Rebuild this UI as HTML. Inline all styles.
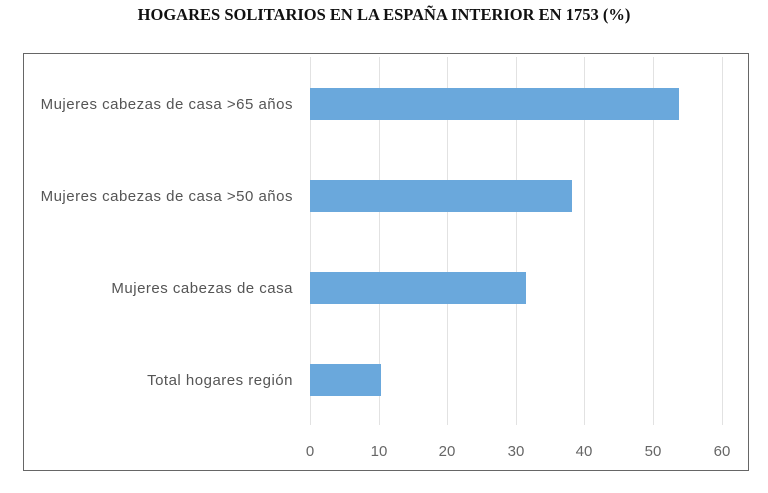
<!DOCTYPE html>
<html><head><meta charset="utf-8"><style>
body{margin:0;background:#fff;width:768px;height:493px;overflow:hidden;position:relative;font-family:"Liberation Sans",sans-serif}
.t{position:absolute;top:5px;left:0;width:768px;text-align:center;font-family:"Liberation Serif",serif;font-weight:bold;font-size:16.5px;color:#111}
.f{position:absolute;left:23px;top:53px;width:726px;height:418px;border:1.5px solid #666;box-sizing:border-box}
.g{position:absolute;top:57px;height:368px;width:1px;background:#e2e2e2}
.b{position:absolute;left:310px;height:32px;background:#6aa8dc}
.l{position:absolute;right:475px;font-size:15px;letter-spacing:0.5px;color:#555;white-space:nowrap;line-height:16px}
.x{position:absolute;top:443px;font-size:15px;color:#666;width:40px;text-align:center}
</style></head><body>
<div class="t">HOGARES SOLITARIOS EN LA ESPAÑA INTERIOR EN 1753 (%)</div>
<div class="f"></div>
<div class="g" style="left:310px"></div><div class="g" style="left:379px"></div><div class="g" style="left:447px"></div><div class="g" style="left:516px"></div><div class="g" style="left:584px"></div><div class="g" style="left:653px"></div><div class="g" style="left:722px"></div>
<div class="b" style="top:88px;width:369px"></div>
<div class="b" style="top:180px;width:262px"></div>
<div class="b" style="top:272px;width:216px"></div>
<div class="b" style="top:364px;width:71px"></div>
<div class="l" style="top:97px">Mujeres cabezas de casa &gt;65 años</div>
<div class="l" style="top:189px">Mujeres cabezas de casa &gt;50 años</div>
<div class="l" style="top:281px">Mujeres cabezas de casa</div>
<div class="l" style="top:373px">Total hogares región</div>
<div class="x" style="left:290px">0</div><div class="x" style="left:359px">10</div><div class="x" style="left:427px">20</div><div class="x" style="left:496px">30</div><div class="x" style="left:564px">40</div><div class="x" style="left:633px">50</div><div class="x" style="left:702px">60</div>
</body></html>
